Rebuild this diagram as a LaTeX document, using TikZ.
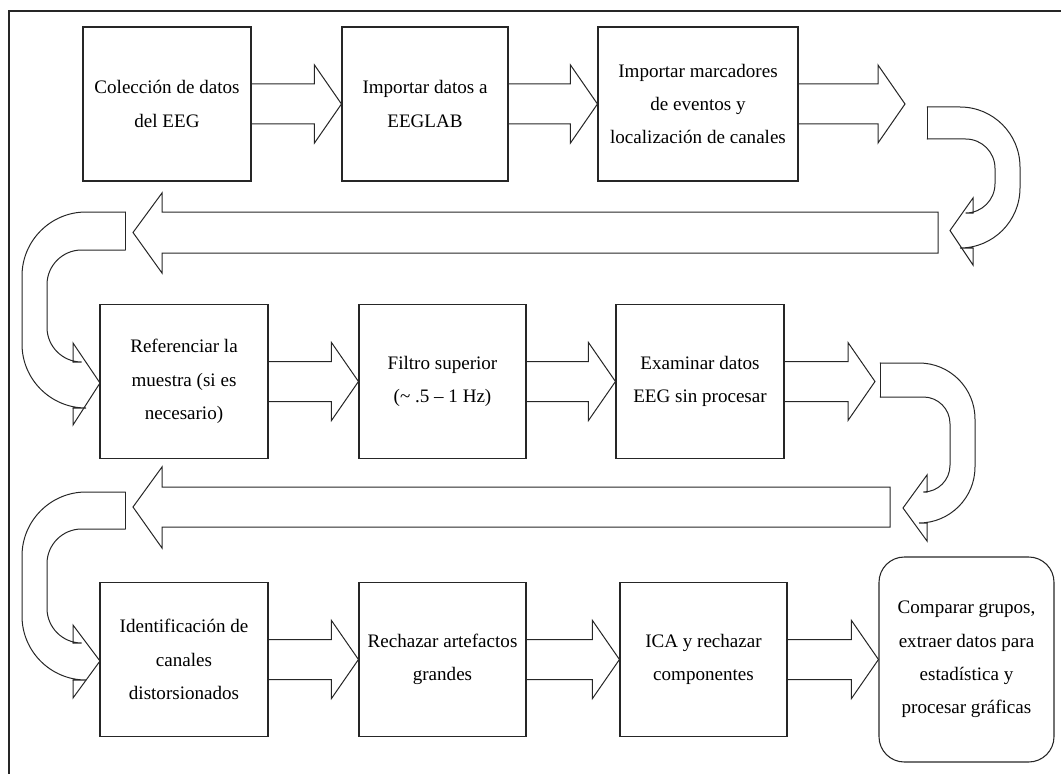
\documentclass[tikz,border=0pt]{standalone}
\usepackage{fontspec}
\setmainfont{Liberation Serif}
\usetikzlibrary{calc}

% right-pointing block arrow from node #1 to node #2
\newcommand\fatarrow[2]{%
  \draw[blk] ($(#1.east)+(0,-20)$) -- ($(#2)+(-27,-20)$) -- ($(#2)+(-27,-39)$)
    -- (#2) -- ($(#2)+(-27,39)$) -- ($(#2)+(-27,20)$) -- ($(#1.east)+(0,20)$);}

\begin{document}
\begin{tikzpicture}[x=0.75pt,y=-0.75pt,
  box/.style={draw=black!85, line width=0.8pt, minimum width=126pt, minimum height=115.5pt,
    align=center, inner sep=0pt, font=\fontsize{14.3pt}{25pt}\selectfont},
  blk/.style={draw=black!85, line width=0.75pt, line join=miter, line cap=round},
]
\useasboundingbox (0,0) rectangle (1061,774);

% page frame
\draw[draw=black!85, line width=0.8pt] (9,774) -- (9,11) -- (1061,11);

% row 1
\node[box] (b1) at (167,104)   {Colección de datos\\del EEG};
\node[box, minimum width=124.5pt] (b2) at (425,104) {Importar datos a\\EEGLAB};
\node[box, minimum width=150pt] (b3) at (698,104) {Importar marcadores\\de eventos y\\localización de canales};
\coordinate (t1) at (905,104);

% row 2
\node[box] (b4) at (184,381.5) {Referenciar la\\muestra (si es\\necesario)};
\node[box, minimum width=125.25pt] (b5) at (442.5,381.5) {Filtro superior\\(\textasciitilde\ .5 – 1 Hz)};
\node[box] (b6) at (700,381.5) {Examinar datos\\EEG sin procesar};
\coordinate (t2) at (875,381.5);

% row 3
\node[box] (b7) at (184,659.5) {Identificación de\\canales\\distorsionados};
\node[box, minimum width=125.25pt] (b8) at (442.5,659.5) {Rechazar artefactos\\grandes};
\node[box, minimum width=125.25pt] (b9) at (703.5,659.5) {ICA y rechazar\\componentes};
\node[box, rounded corners=19pt, minimum width=131.25pt, minimum height=153.75pt] (b10) at (966.5,659.5)
  {Comparar grupos,\\extraer datos para\\estadística y\\procesar gráficas};

% straight block arrows
\fatarrow{b1}{b2.west}
\fatarrow{b2}{b3.west}
\fatarrow{b3}{t1}
\fatarrow{b4}{b5.west}
\fatarrow{b5}{b6.west}
\fatarrow{b6}{t2}
\fatarrow{b7}{b8.west}
\fatarrow{b8}{b9.west}
\fatarrow{b9}{b10.west}

% U-turn, top right
\draw[blk, rounded corners=45] (927,107) -- (1020,107) -- (1020,248) -- (973,248);
\draw[blk, rounded corners=22] (927,139) -- (995,139) -- (995,213) -- (973,213);
\draw[blk] (973,213) -- (973,198) -- (950,230.5) -- (973,265) -- (973,248);
\draw[blk] (927,107) -- (927,139);

% long return arrow 1
\draw[blk] (938,212) -- (162,212) -- (162,193) -- (133,232.5) -- (162,273) -- (162,253) -- (938,253) -- cycle;

% U-turn, left, into row 2
\draw[blk, rounded corners=48] (125,212) -- (22,212) -- (22,408) -- (73,408);
\draw[blk, rounded corners=26] (125,250) -- (47,250) -- (47,362) -- (73,362);
\draw[blk] (73,362) -- (73,343) -- (100,383) -- (73,425) -- (73,408);
\draw[blk] (125,212) -- (125,250);

% U-turn, right, after row 2
\draw[blk, rounded corners=42] (880,363) -- (975,363) -- (975,523) -- (927,523);
\draw[blk, rounded corners=20] (880,397) -- (950,397) -- (950,492) -- (927,492);
\draw[blk] (927,492) -- (927,475) -- (903,508) -- (927,541) -- (927,523);
\draw[blk] (880,363) -- (880,397);

% long return arrow 2
\draw[blk] (890,487) -- (162,487) -- (162,467) -- (133,507) -- (162,548) -- (162,527) -- (890,527) -- cycle;

% U-turn, left, into row 3
\draw[blk, rounded corners=48] (125,492) -- (22,492) -- (22,680) -- (73,680);
\draw[blk, rounded corners=26] (125,529) -- (47,529) -- (47,643) -- (73,643);
\draw[blk] (73,643) -- (73,625) -- (100,661) -- (73,698) -- (73,680);
\draw[blk] (125,492) -- (125,529);
\end{tikzpicture}
\end{document}
